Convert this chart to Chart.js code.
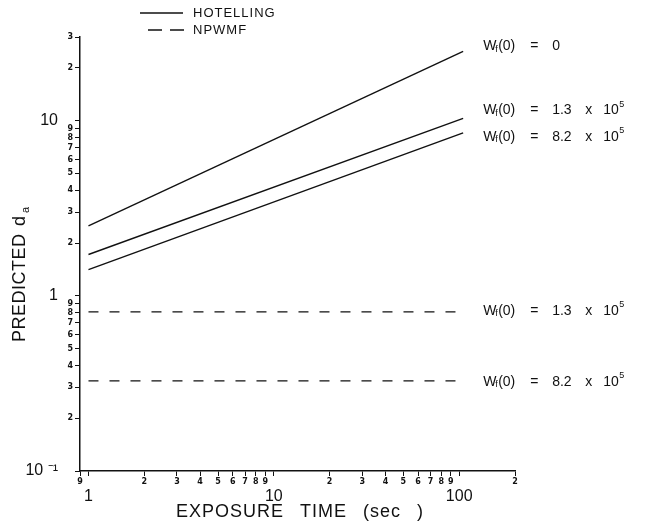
<!DOCTYPE html>
<html><head><meta charset="utf-8">
<script src="https://cdn.jsdelivr.net/npm/chart.js@4"></script>
<style>html,body{margin:0;padding:0;background:#fff;}#wrap{width:646px;height:527px;}</style>
</head><body><div id="wrap"><canvas id="c" width="646" height="527"></canvas></div>
<script>
// ---- data ----
const exposureTimes = [1, 105];
const hotellingW0 = [2.51, 24.8];
const hotellingW13 = [1.72, 10.3];
const hotellingW82 = [1.41, 8.5];
const npwmfW13 = [0.81, 0.81];
const npwmfW82 = [0.327, 0.327];
const seriesValueText = ['0', '1.3', '8.2', '1.3', '8.2'];
const seriesHasPower = [false, true, true, true, true];
const legendLabels = ['HOTELLING', 'NPWMF'];
const xMinorTicks = [0.9,1,2,3,4,5,6,7,8,9,10,20,30,40,50,60,70,80,90,100,200];
const xMajorTicks = [1, 10, 100];
const xMajorLabels = ['1', '10', '100'];
const yMinorTicks = [0.1,0.2,0.3,0.4,0.5,0.6,0.7,0.8,0.9,1,2,3,4,5,6,7,8,9,10,20,30];
const yMajorTicks = [0.1, 1, 10];
const yMajorLabels = ['10 \u207B\u00B9', '1', '10'];
const xTitle = 'EXPOSURE TIME (sec )';
const yTitle = 'PREDICTED d';
const yTitleSub = 'a';

const isDecade = v => Math.abs(Math.log10(v) - Math.round(Math.log10(v))) < 1e-9;
const pts = ys => exposureTimes.map((x, i) => ({x, y: ys[i]}));

const solid = [];
const dashed = [10, 11];
const ds = (ys, dash) => ({data: pts(ys), borderColor: '#111', borderWidth: 1.4, borderDash: dash,
  pointRadius: 0, showLine: true, fill: false});

// label placement relative to the line end (styling, not data)
const labelDy = [-5, -8, 4, -1, 1];

const fam = '"Liberation Sans", Arial, sans-serif';

const annot = {
  id: 'annot',
  afterDraw(chart) {
    const ctx = chart.ctx;
    const xs = chart.scales.x, ys = chart.scales.y;
    ctx.save();
    ctx.fillStyle = '#111';
    ctx.textBaseline = 'middle';
    ctx.textAlign = 'left';
    chart.data.datasets.forEach((d, i) => {
      const p = d.data[d.data.length - 1];
      const x0 = xs.getPixelForValue(p.x) + 20;
      const y0 = ys.getPixelForValue(p.y) + labelDy[i];
      ctx.font = '14px ' + fam;
      ctx.fillText('W', x0, y0);
      ctx.font = '9px ' + fam;
      ctx.fillText('f', x0 + 12, y0 + 3);
      ctx.font = '14px ' + fam;
      ctx.fillText('(0)', x0 + 15, y0);
      ctx.fillText('=', x0 + 47, y0);
      ctx.fillText(seriesValueText[i], x0 + 69, y0);
      if (seriesHasPower[i]) {
        ctx.fillText('x', x0 + 102, y0);
        ctx.fillText('10', x0 + 120, y0);
        ctx.font = '9px ' + fam;
        ctx.fillText('5', x0 + 136, y0 - 6);
      }
    });
    // legend
    ctx.lineWidth = 1.3;
    ctx.strokeStyle = '#111';
    ctx.beginPath(); ctx.setLineDash([]); ctx.moveTo(140, 13); ctx.lineTo(183, 13); ctx.stroke();
    ctx.beginPath(); ctx.setLineDash([14, 8]); ctx.lineDashOffset = 0; ctx.moveTo(148, 30); ctx.lineTo(184, 30); ctx.stroke();
    ctx.setLineDash([]);
    ctx.font = '13px ' + fam;
    ctx.letterSpacing = '1px';
    ctx.fillText(legendLabels[0], 193, 13);
    ctx.fillText(legendLabels[1], 193, 30);
    // x title
    ctx.font = '18px ' + fam;
    ctx.letterSpacing = '1px';
    ctx.wordSpacing = '10px';
    ctx.textAlign = 'center';
    ctx.textBaseline = 'middle';
    ctx.fillText(xTitle, 300, 512);
    ctx.wordSpacing = '0px';
    // y title
    ctx.translate(25, 342);
    ctx.rotate(-Math.PI / 2);
    ctx.textAlign = 'left';
    ctx.textBaseline = 'alphabetic';
    ctx.font = '18px ' + fam;
    ctx.letterSpacing = '0.5px';
    ctx.fillText(yTitle.replace(' d', ''), 0, 0);
    ctx.fillText('d', 116, 0);
    ctx.font = '11px ' + fam;
    ctx.fillText(yTitleSub, 129, 4);
    ctx.restore();
  }
};

new Chart(document.getElementById('c'), {
  type: 'scatter',
  data: {datasets: [ds(hotellingW0, solid), ds(hotellingW13, solid), ds(hotellingW82, solid),
                    ds(npwmfW13, dashed), ds(npwmfW82, dashed)]},
  options: {
    responsive: false, animation: false,
    layout: {padding: {top: 37, right: 131, left: 0, bottom: 0}},
    plugins: {legend: {display: false}, tooltip: {enabled: false}},
    scales: {
      x: {type: 'logarithmic', position: 'bottom', min: 0.9, max: 200, weight: 0,
        afterBuildTicks: s => { s.ticks = xMinorTicks.map(v => ({value: v})); },
        afterFit: s => { s.height = 14; },
        ticks: {autoSkip: false, maxRotation: 0, minRotation: 0, padding: 1, color: '#111',
          font: {size: 8, weight: 'bold', family: '"DejaVu Sans", sans-serif'},
          callback: v => isDecade(v) ? '' : String(Math.round(v / Math.pow(10, Math.floor(Math.log10(v) + 1e-9))))},
        grid: {drawOnChartArea: false, drawTicks: true, tickLength: 5, color: '#111', lineWidth: 1},
        border: {display: true, color: '#111', width: 1.5}
      },
      x2: {type: 'logarithmic', position: 'bottom', min: 0.9, max: 200, weight: 1,
        afterBuildTicks: s => { s.ticks = xMajorTicks.map(v => ({value: v})); },
        afterFit: s => { s.height = 42; },
        ticks: {autoSkip: false, maxRotation: 0, minRotation: 0, padding: 2, color: '#111',
          font: {size: 16, family: fam},
          callback: (v, i) => xMajorLabels[i]},
        grid: {display: false, drawTicks: false},
        border: {display: false}
      },
      y: {type: 'logarithmic', position: 'left', min: 0.1, max: 30, weight: 0,
        afterBuildTicks: s => { s.ticks = yMinorTicks.map(v => ({value: v})); },
        afterFit: s => { s.width = 14; },
        ticks: {autoSkip: false, padding: 2, color: '#111',
          font: {size: 8, weight: 'bold', family: '"DejaVu Sans", sans-serif'},
          callback: v => isDecade(v) ? '' : String(Math.round(v / Math.pow(10, Math.floor(Math.log10(v) + 1e-9))))},
        grid: {drawOnChartArea: false, drawTicks: true, tickLength: 5, color: '#111', lineWidth: 1},
        border: {display: true, color: '#111', width: 1.5}
      },
      y2: {type: 'logarithmic', position: 'left', min: 0.1, max: 30, weight: 1,
        afterBuildTicks: s => { s.ticks = yMajorTicks.map(v => ({value: v})); },
        afterFit: s => { s.width = 66; },
        ticks: {autoSkip: false, padding: 8, color: '#111',
          font: {size: 16, family: fam},
          callback: (v, i) => yMajorLabels[i]},
        grid: {display: false, drawTicks: false},
        border: {display: false}
      }
    }
  },
  plugins: [annot]
});
</script></body></html>
